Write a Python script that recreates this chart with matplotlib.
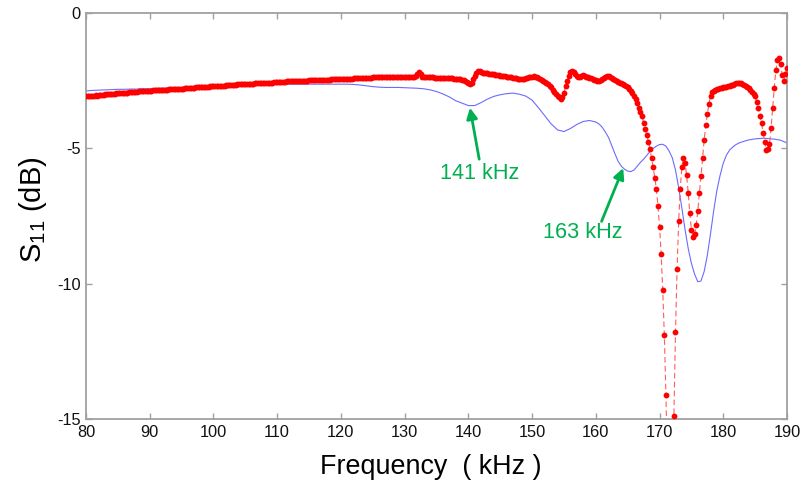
import numpy as np
import matplotlib
matplotlib.use("Agg")
import matplotlib.pyplot as plt
import matplotlib.font_manager as fm

# measured S11 (red dots), sweep 80-190 kHz, 0.25 kHz step, one row = 5 kHz
s11_measured = [
    -3.07, -3.08, -3.06, -3.06, -3.05, -3.05, -3.04, -3.05, -3.03, -3.03, -3.02, -3.02, -3.01, -3.00, -3.01, -2.99, -2.99, -2.98, -2.98, -2.97,
    -2.97, -2.96, -2.96, -2.95, -2.95, -2.94, -2.94, -2.93, -2.93, -2.92, -2.92, -2.91, -2.91, -2.90, -2.90, -2.89, -2.90, -2.89, -2.88, -2.88,
    -2.87, -2.87, -2.86, -2.86, -2.85, -2.85, -2.85, -2.84, -2.84, -2.83, -2.83, -2.83, -2.82, -2.82, -2.81, -2.81, -2.81, -2.80, -2.80, -2.80,
    -2.79, -2.79, -2.78, -2.78, -2.77, -2.77, -2.76, -2.76, -2.76, -2.75, -2.75, -2.74, -2.74, -2.73, -2.73, -2.73, -2.72, -2.72, -2.71, -2.71,
    -2.70, -2.70, -2.70, -2.69, -2.69, -2.68, -2.68, -2.68, -2.67, -2.67, -2.66, -2.66, -2.66, -2.65, -2.65, -2.64, -2.64, -2.64, -2.63, -2.63,
    -2.62, -2.62, -2.62, -2.61, -2.61, -2.61, -2.60, -2.60, -2.60, -2.59, -2.59, -2.59, -2.58, -2.58, -2.58, -2.57, -2.57, -2.57, -2.56, -2.56,
    -2.55, -2.55, -2.55, -2.54, -2.54, -2.54, -2.53, -2.53, -2.53, -2.53, -2.52, -2.52, -2.52, -2.51, -2.51, -2.51, -2.51, -2.50, -2.50, -2.50,
    -2.49, -2.49, -2.49, -2.48, -2.48, -2.48, -2.48, -2.47, -2.47, -2.47, -2.46, -2.46, -2.46, -2.46, -2.45, -2.45, -2.45, -2.45, -2.44, -2.44,
    -2.43, -2.43, -2.43, -2.43, -2.42, -2.42, -2.42, -2.42, -2.41, -2.41, -2.41, -2.41, -2.40, -2.40, -2.40, -2.40, -2.40, -2.39, -2.39, -2.39,
    -2.38, -2.38, -2.38, -2.37, -2.37, -2.37, -2.37, -2.37, -2.36, -2.36, -2.36, -2.36, -2.36, -2.36, -2.36, -2.36, -2.37, -2.37, -2.37, -2.37,
    -2.37, -2.37, -2.36, -2.36, -2.36, -2.36, -2.35, -2.33, -2.25, -2.17, -2.26, -2.35, -2.37, -2.37, -2.38, -2.38, -2.38, -2.38, -2.38, -2.39,
    -2.39, -2.39, -2.39, -2.39, -2.40, -2.40, -2.40, -2.40, -2.41, -2.41, -2.41, -2.42, -2.42, -2.42, -2.43, -2.44, -2.46, -2.49, -2.52, -2.55,
    -2.58, -2.61, -2.57, -2.45, -2.32, -2.20, -2.14, -2.15, -2.19, -2.22, -2.23, -2.22, -2.23, -2.25, -2.26, -2.26, -2.27, -2.28, -2.29, -2.30,
    -2.31, -2.32, -2.33, -2.34, -2.35, -2.36, -2.37, -2.38, -2.39, -2.40, -2.41, -2.42, -2.43, -2.43, -2.43, -2.42, -2.41, -2.40, -2.38, -2.36,
    -2.35, -2.34, -2.35, -2.37, -2.40, -2.43, -2.46, -2.50, -2.54, -2.58, -2.63, -2.69, -2.75, -2.83, -2.91, -2.98, -3.05, -3.12, -3.16, -3.10,
    -2.96, -2.70, -2.50, -2.33, -2.18, -2.13, -2.17, -2.27, -2.34, -2.38, -2.36, -2.31, -2.30, -2.32, -2.35, -2.37, -2.39, -2.41, -2.44, -2.47,
    -2.49, -2.50, -2.50, -2.48, -2.45, -2.41, -2.37, -2.34, -2.33, -2.35, -2.39, -2.44, -2.48, -2.52, -2.54, -2.57, -2.60, -2.63, -2.66, -2.70,
    -2.75, -2.81, -2.88, -2.96, -3.05, -3.17, -3.33, -3.50, -3.66, -3.80, -4.07, -4.27, -4.50, -4.75, -5.03, -5.36, -5.70, -6.08, -6.50, -7.12,
    -7.89, -8.90, -10.23, -11.90, -14.10, -16.80, -19.00, -19.50, -17.00, -14.90, -11.80, -9.45, -7.70, -6.50, -5.70, -5.36, -5.55, -6.00, -6.65, -7.40,
    -8.00, -8.26, -8.16, -7.83, -7.33, -6.65, -6.04, -5.36, -4.70, -4.15, -3.73, -3.35, -3.05, -2.93, -2.87, -2.83, -2.81, -2.79, -2.78, -2.76,
    -2.75, -2.73, -2.72, -2.70, -2.69, -2.67, -2.65, -2.62, -2.60, -2.59, -2.59, -2.60, -2.62, -2.65, -2.68, -2.72, -2.76, -2.83, -2.91, -2.99,
    -3.08, -3.28, -3.52, -3.80, -4.08, -4.42, -4.75, -5.05, -5.02, -4.85, -4.25, -3.50, -2.77, -2.10, -1.74, -1.67, -1.90, -2.28, -2.52, -2.25,
    -2.03,
]
meas_start, meas_step = 80.0, 0.25

# simulated S11 (blue line): 1 kHz step below 160 kHz, 0.5 kHz above
s11_sim_lo = [
    -2.88, -2.86, -2.85, -2.84, -2.83, -2.82, -2.82, -2.81, -2.81, -2.80,
    -2.80, -2.79, -2.78, -2.77, -2.76, -2.75, -2.74, -2.73, -2.72, -2.71,
    -2.70, -2.69, -2.68, -2.68, -2.67, -2.66, -2.66, -2.65, -2.65, -2.64,
    -2.64, -2.64, -2.63, -2.63, -2.63, -2.63, -2.63, -2.63, -2.63, -2.63,
    -2.63, -2.63, -2.64, -2.66, -2.69, -2.72, -2.74, -2.75, -2.75, -2.75,
    -2.76, -2.77, -2.78, -2.80, -2.84, -2.90, -2.99, -3.10, -3.24, -3.33,
    -3.42, -3.42, -3.31, -3.18, -3.08, -3.02, -2.98, -2.96, -3.00, -3.07,
    -3.22, -3.50, -3.80, -4.10, -4.32, -4.38, -4.27, -4.12, -4.01, -3.97,
]
s11_sim_hi = [
    -4.03, -4.10, -4.22, -4.40, -4.60, -4.90, -5.20, -5.48, -5.66, -5.77,
    -5.84, -5.86, -5.80, -5.66, -5.52, -5.40, -5.26, -5.12, -5.00, -4.92,
    -4.86, -4.85, -4.92, -5.10, -5.35, -5.80, -6.45, -7.20, -8.00, -8.70,
    -9.25, -9.65, -9.93, -9.90, -9.55, -8.95, -8.15, -7.30, -6.55, -6.00,
    -5.55, -5.25, -5.06, -4.95, -4.86, -4.80, -4.76, -4.72, -4.69, -4.67,
    -4.65, -4.64, -4.63, -4.63, -4.64, -4.65, -4.66, -4.68, -4.70, -4.75,
    -4.80,
]

# annotations: label, arrow tip, arrow tail, text centre
notes = [
    ("141 kHz", (140.25, -3.50), (141.7, -5.40), (141.7, -5.94)),
    ("163 kHz", (164.3, -5.73), (160.9, -7.70), (157.9, -8.12)),
]

xticks = np.arange(80, 191, 10)
yticks = [0, -5, -10, -15]

# --- fonts: the original text looks like a condensed Arial ---
have = {f.name for f in fm.fontManager.ttflist}
if "Liberation Sans Narrow" in have:
    fam, k = "Liberation Sans Narrow", 1.0
else:
    fam, k = "Liberation Sans", 0.84
plt.rcParams["font.family"] = [fam, "DejaVu Sans"]
plt.rcParams["mathtext.fontset"] = "custom"
plt.rcParams["mathtext.rm"] = fam
plt.rcParams["axes.unicode_minus"] = False

green = "#00b050"
grey = "#a0a0a0"

meas_freq = meas_start + meas_step * np.arange(len(s11_measured))
sim_freq = np.concatenate([80 + np.arange(len(s11_sim_lo)),
                           160 + 0.5 * np.arange(len(s11_sim_hi))])
s11_sim = np.array(s11_sim_lo + s11_sim_hi)

fig = plt.figure(figsize=(8.03, 4.93), dpi=100)
ax = fig.add_axes([86 / 803, 74 / 493, 701 / 803, 406 / 493])

ax.plot(sim_freq, s11_sim, color="#6b6bff", lw=0.8, zorder=2)
ax.plot(meas_freq, s11_measured, color="#ff5c5c", lw=0.8, ls=(0, (5, 3)),
        marker="o", ms=4.2, mfc="#ff0000", mec="#ff0000", mew=0, zorder=3)

for label, tip, tail, txt in notes:
    ax.annotate("", xy=tip, xytext=tail,
                arrowprops=dict(arrowstyle="-|>", color=green, lw=2,
                                mutation_scale=16, shrinkA=0, shrinkB=0))
    ax.text(txt[0], txt[1], label, color=green, fontsize=18.5 * k,
            ha="center", va="center")

ax.set_xlim(80, 190)
ax.set_ylim(-15, 0)
ax.set_xticks(xticks)
ax.set_yticks(yticks)
ax.tick_params(direction="in", length=4.5, width=1, color=grey,
               labelsize=14 * k, labelcolor="#111111", top=True, right=True, pad=4)
for s in ax.spines.values():
    s.set_color(grey)
    s.set_linewidth(1.3)

ax.set_xlabel("Frequency  ( kHz )", fontsize=23 * k)
ax.xaxis.set_label_coords(0.492, -0.118)
ax.xaxis.label.set_va("center")
ax.set_ylabel(r"S$_\mathregular{11}$ (dB)", fontsize=25 * k)
ax.yaxis.set_label_coords(-0.0756, 0.515)
ax.yaxis.label.set_va("center")

fig.savefig("out.png", dpi=100)
